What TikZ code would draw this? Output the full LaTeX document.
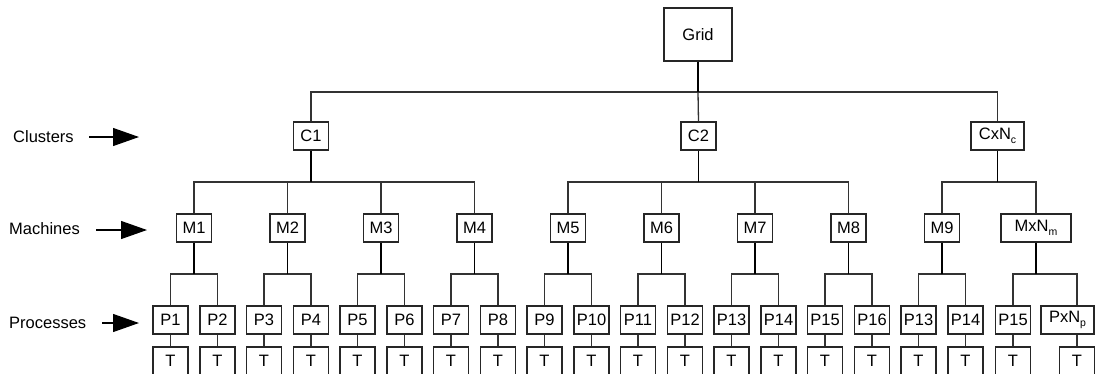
\documentclass[tikz,border=0pt]{standalone}
\usepackage{fontspec}
\setmainfont{Liberation Sans}
\usetikzlibrary{arrows.meta}
\newcommand{\lowsub}[1]{\raisebox{-0.45ex}{\fontsize{10.5}{11}\selectfont #1}}
\begin{document}
\begin{tikzpicture}[x=1pt,y=-1pt,
  box/.style={draw=black!85,line width=1.2pt,minimum width=35pt,minimum height=28pt,inner sep=0pt,font=\fontsize{16.5}{19}\selectfont},
  conn/.style={draw=black!80,line width=1.3pt},
  stem/.style={draw=black,line width=1.8pt},
  lab/.style={anchor=west,inner sep=0pt,font=\fontsize{16.5}{19}\selectfont},
  pointer/.style={draw=black,line width=1.2pt,-{Triangle[length=26pt,width=18pt]}}]
\useasboundingbox (0,0) rectangle (1098,373);
% levels
\coordinate (hG) at (0,92);
\coordinate (hC) at (0,182);
\coordinate (hM) at (0,274);
% root
\node[box,minimum width=68pt,minimum height=53pt] (grid) at (698,34.5) {Grid};
% clusters
\node[box] (c1) at (311,136) {C1};
\node[box] (c2) at (698.5,136) {C2};
\node[box,minimum width=53pt] (c3) at (997.5,136) {CxN\lowsub{c}};
% machines
\foreach \k in {1,...,9}{
  \node[box] (m\k) at ({194+93.5*(\k-1)},228) {M\k};
}
\node[box,minimum width=70pt] (m10) at (1036,228) {MxN\lowsub{m}};
% processes
\foreach \k [evaluate=\k as \a using int(2*\k-1), evaluate=\k as \b using int(2*\k)] in {1,...,8}{
  \node[box] (p\a) at ({194+93.5*(\k-1)-23.5},320) {P\a};
  \node[box] (p\b) at ({194+93.5*(\k-1)+23.5},320) {P\b};
}
\node[box] (p17) at (918.5,320) {P13};
\node[box] (p18) at (965.5,320) {P14};
\node[box] (p19) at (1013,320) {P15};
\node[box,minimum width=53pt] (p20) at (1067.5,320) {PxN\lowsub{p}};
% threads
\foreach \i in {1,...,19}{
  \node[box] (t\i) at (p\i.center |- 0,361) {T};
}
\node[box] (t20) at (1077,361) {T};
% grid to clusters
\draw[conn] (c1.north) |- (c3.north |- hG) -- (c3.north);
\draw[stem] (grid.south) -- (grid.south |- hG);
\draw[conn] (grid.south |- hG) -- (c2.north);
% clusters to machines
\draw[conn] (m1.north) |- (m4.north |- hC) -- (m4.north);
\draw[conn] (m2.north) -- (m2.north |- hC);
\draw[conn] (m3.north) -- (m3.north |- hC);
\draw[stem] (c1.south) -- (c1.south |- hC);
\draw[conn] (m5.north) |- (m8.north |- hC) -- (m8.north);
\draw[conn] (m6.north) -- (m6.north |- hC);
\draw[conn] (m7.north) -- (m7.north |- hC);
\draw[stem] (c2.south) -- (c2.south |- hC);
\draw[conn] (m9.north) |- (m10.north |- hC) -- (m10.north);
\draw[stem] (c3.south) -- (c3.south |- hC);
% machines to processes
\foreach \k [evaluate=\k as \a using int(2*\k-1), evaluate=\k as \b using int(2*\k)] in {1,...,9}{
  \draw[conn] (p\a.north) |- (p\b.north |- hM) -- (p\b.north);
  \draw[stem] (m\k.south) -- (m\k.south |- hM);
}
\draw[conn] (p19.north) |- (t20.north |- hM) -- (t20.north |- p20.north);
\draw[stem] (m10.south) -- (m10.south |- hM);
% processes to threads
\foreach \i in {1,...,19}{
  \draw[conn] (p\i.south) -- (t\i.north);
}
\draw[conn] (t20.north) -- (t20.north |- p20.south);
% level labels
\node[lab] (lc) at (13,137) {Clusters};
\node[lab] (lm) at (9,229) {Machines};
\node[lab] (lp) at (9,323) {Processes};
\coordinate (ac1) at (89,137);  \coordinate (ac2) at (139,137);
\coordinate (am1) at (96,230);  \coordinate (am2) at (147,230);
\coordinate (ap1) at (102,323); \coordinate (ap2) at (139,323);
\draw[pointer] (ac1) -- (ac2);
\draw[pointer] (am1) -- (am2);
\draw[pointer] (ap1) -- (ap2);
\end{tikzpicture}
\end{document}
